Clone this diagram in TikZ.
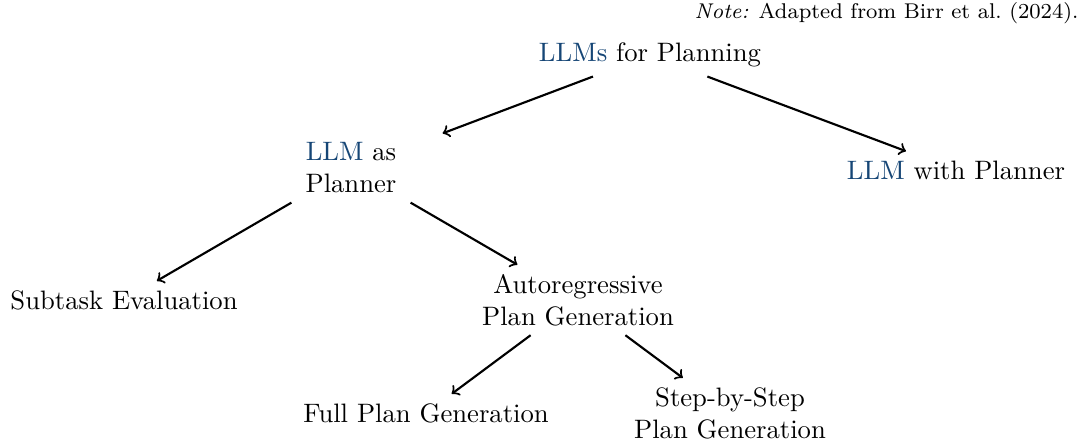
\documentclass[tikz,border=0pt]{standalone}
\usepackage{xcolor}
\definecolor{llmblue}{RGB}{22,70,118}
\newcommand\llmword[1]{\textcolor{llmblue}{#1}}
\begin{document}
\begin{tikzpicture}[x=0.3752pt,y=-0.3752pt,
  lbl/.style={align=center, inner sep=3.33pt},
  link/.style={->, thick}]
\useasboundingbox (0,0) rectangle (1088,441);
% source note
\node[anchor=east, font=\footnotesize, inner sep=0pt] (note) at (1079,13)
  {\textit{Note:} Adapted from Birr et al.\ (2024).};
% tree nodes
\node[lbl] (root) at (650,55) {\llmword{LLMs} for Planning};
\node[lbl, text width=2.4cm] (planner) at (351,168) {\llmword{LLM} as\\Planner};
\node[lbl] (withpl) at (956,170) {\llmword{LLM} with Planner};
\node[lbl] (subtask) at (124,300) {Subtask Evaluation};
\node[lbl] (autoreg) at (578,300) {Autoregressive\\Plan Generation};
\node[lbl] (fullplan) at (426,413) {Full Plan Generation};
\node[lbl] (stepplan) at (730,413) {Step-by-Step\\Plan Generation};
% connectors
\draw[link] (root) -- (planner);
\draw[link] (root) -- (withpl);
\draw[link] (planner) -- (subtask);
\draw[link] (planner) -- (autoreg);
\draw[link] (autoreg) -- (fullplan);
\draw[link] (autoreg) -- (stepplan);
\end{tikzpicture}
\end{document}
